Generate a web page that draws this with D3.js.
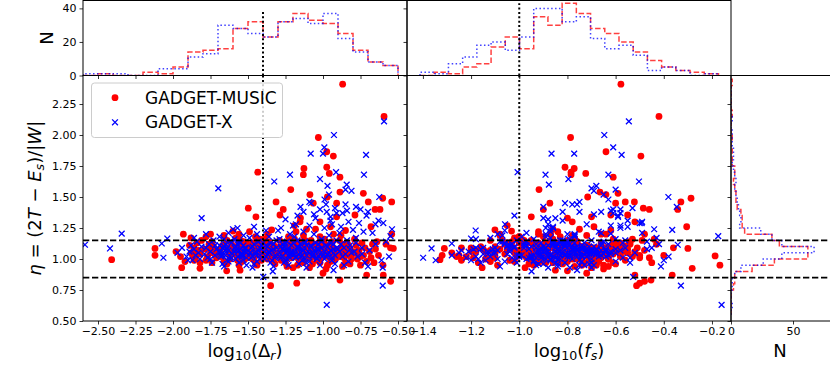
<!DOCTYPE html>
<html><head><meta charset="utf-8">
<script src="https://cdn.jsdelivr.net/npm/d3@7"></script>
<style>body{margin:0;background:#fff}svg{display:block}text{font-family:"DejaVu Sans",sans-serif}</style>
</head><body><svg id="c" width="830" height="378"></svg>
<script>
// ---------- tick labels / constants ----------
const drTicks = [-2.5,-2.25,-2,-1.75,-1.5,-1.25,-1,-0.75,-0.5];
const fsTicks = [-1.4,-1.2,-1.0,-0.8,-0.6,-0.4,-0.2];
const etaTicks = [0.5,0.75,1.0,1.25,1.5,1.75,2.0,2.25];
const nTopTicks = [0,20,40];
const nRightTicks = [0,50];
const etaCuts = [0.85,1.15];
const drCut = -1.4, fsCut = -1.0;
const seriesNames = ["GADGET-MUSIC","GADGET-X"];

// ---------- histogram counts ----------
const drBinStart = -2.6, drBinWidth = 0.1;
const drHistMusic = [0,1,0,0,2,1,5,14,15,16,28,32,23,32,37,33,31,25,15,8,6];
const drHistX     = [1,1,1,0,0,4,4,11,13,30,28,25,23,32,34,31,37,22,14,8,6];
const fsBinStart = -1.412, fsBinWidth = 0.059;
const fsHistMusic = [0,2,1,5,7,17,23,16,35,30,43,37,28,25,20,14,9,5,3,2,1];
const fsHistX     = [2,1,7,11,18,20,15,23,40,40,32,35,22,16,18,12,3,5,3,0,1];
const etaBinStart = 0.55, etaBinWidth = 0.05;
const etaHistMusic = [0,0,0,0,2,3,3,17,35,62,62,39,33,11,9,9,8,5,4,4,3,2,3,3,1,1,1,0,1,0,0,0,1,0,0,0,0,1];
const etaHistX     = [0,1,0,0,1,1,3,8,26,41,67,41,33,24,7,8,7,6,5,4,3,4,3,2,1,2,2,1,1,1,0,1,0,0,0,0,0,0];

// ---------- scatter points: [log10(Delta_r), log10(f_s), eta] ----------
const musicPts = [
[-0.869,-0.578,2.41],[-0.593,-0.42,2.15],[-1.031,-0.787,1.98],[-0.975,-0.64,1.865],[-0.931,-0.495,1.83],
[-0.975,-0.81,1.74],[-1.127,-0.772,1.73],[-1.435,-0.785,1.70],[-0.958,-0.724,1.69],[-1.131,-0.785,1.68],
[-0.887,-0.61,1.66],[-1.215,-0.918,1.56],[-0.887,-0.665,1.54],[-0.731,-0.59,1.53],[-1.087,-0.64,1.52],
[-0.971,-0.716,1.50],[-0.602,-0.287,1.49],[-0.542,-0.329,1.46],[-1.313,-0.522,1.46],[-0.698,-0.56,1.46],
[-1.065,-0.873,1.45],[-0.909,-0.60,1.45],[-1.498,-0.485,1.41],[-1.265,-0.342,1.40],[-0.653,-0.90,1.40],
[-0.62,-0.46,1.40],[-1.287,-0.62,1.355],[-0.787,-0.55,1.355],[-1.447,-0.95,1.34],[-0.909,-0.70,1.34],
[-1.153,-0.52,1.30],[-1.02,-0.78,1.30],[-0.68,-0.305,1.26],[-1.342,-1.101,1.235],[-1.6,-1.032,1.225],
[-1.931,-0.48,1.20],[-0.542,-0.66,1.20],
[-1.349,-0.513,0.785],[-1.175,-0.50,0.805],[-0.887,-0.453,0.83],[-0.549,-0.48,0.82],[-0.709,-0.365,0.87],
[-0.598,-0.52,0.87],[-1.0,-0.72,0.885],[-1.642,-0.80,0.905],[-1.553,-0.85,0.91],[-1.82,-0.282,0.925],
[-1.942,-1.154,0.93],[-1.2,-0.976,0.93],[-0.6,-0.167,0.95],[-2.409,-1.329,0.995],[-0.75,-0.187,1.025],
[-2.12,-1.25,1.03],[-2.12,-1.311,1.085],[-0.531,-0.30,1.085],
[-1.98,-1.18,1.06],[-1.95,-1.22,1.02],[-1.92,-1.12,0.98],
[-1.88,-1.10,1.05],[-1.86,-1.24,1.09],[-1.85,-0.95,1.01],[-1.84,-1.05,1.13],[-1.82,-1.17,0.97],[-1.89,-0.86,1.11],[-1.87,-1.32,1.03],[-1.83,-0.99,1.07],[-1.81,-1.12,1.15],[-1.86,-0.90,0.99],[-1.84,-1.20,1.06],[-1.88,-1.02,1.17],[-1.82,-0.93,1.04],
[-1.79,-1.15,1.08],[-1.77,-0.97,1.02],[-1.76,-1.06,1.12],[-1.75,-1.28,1.05],[-1.74,-0.89,0.97],[-1.73,-1.10,1.10],[-1.78,-1.00,1.18],[-1.72,-0.93,1.06],[-1.71,-1.19,1.01],[-1.76,-0.84,1.09],[-1.74,-1.03,1.14],[-1.78,-1.24,0.99],[-1.72,-0.95,1.04],[-1.75,-1.08,1.20],
[-1.69,-1.12,1.07],[-1.68,-0.98,1.03],[-1.67,-1.05,1.11],[-1.66,-0.90,0.98],[-1.65,-1.20,1.09],[-1.64,-0.86,1.15],[-1.63,-1.02,1.05],[-1.62,-1.14,1.00],[-1.61,-0.94,1.12],[-1.69,-0.82,1.06],[-1.68,-1.26,1.02],[-1.66,-1.08,1.19],[-1.64,-0.96,0.96],[-1.62,-0.88,1.08],
[-1.59,-1.06,1.04],[-1.58,-0.91,1.09],[-1.57,-1.13,1.01],[-1.56,-0.85,1.12],[-1.55,-0.97,1.06],[-1.54,-1.02,0.98],[-1.53,-0.80,1.14],[-1.52,-1.18,1.07],[-1.51,-0.93,1.03],[-1.59,-0.87,1.10],[-1.58,-1.00,1.17],[-1.57,-0.76,1.05],[-1.56,-1.09,0.95],[-1.55,-0.89,1.08],[-1.54,-0.83,1.02],[-1.53,-1.04,1.11],[-1.52,-0.95,1.00],[-1.51,-0.78,1.13],[-1.58,-1.14,1.06],[-1.56,-0.92,1.20],[-1.54,-0.99,1.04],[-1.52,-0.86,1.09],[-1.57,-0.82,0.99],[-1.55,-1.07,1.15],[-1.53,-0.74,1.07],[-1.51,-1.01,1.02],
[-1.49,-0.95,1.06],[-1.48,-0.88,1.02],[-1.47,-1.03,1.10],[-1.46,-0.81,1.05],[-1.45,-0.92,0.97],[-1.44,-0.77,1.12],[-1.43,-1.08,1.08],[-1.42,-0.85,1.03],[-1.41,-0.98,1.15],[-1.49,-0.72,1.09],[-1.47,-0.90,1.00],[-1.45,-1.00,1.18],[-1.43,-0.79,1.04],[-1.41,-0.87,1.11],[-1.48,-1.12,1.01],[-1.46,-0.84,1.07],[-1.44,-0.94,0.95],[-1.42,-0.75,1.06],[-1.40,-0.96,1.13],[-1.47,-0.80,1.03],
[-1.47,-1.00,1.13],[-1.45,-0.79,1.04],[-1.43,-1.16,1.10],[-1.41,-1.04,0.99],[-1.49,-0.92,1.22],[-1.46,-1.10,1.01],[-1.43,-0.84,1.07],[-1.42,-0.99,1.16],
[-1.39,-0.90,1.05],[-1.38,-0.83,1.09],[-1.37,-0.97,1.01],[-1.36,-0.76,1.12],[-1.35,-0.88,1.04],[-1.34,-1.05,1.07],[-1.33,-0.80,0.98],[-1.32,-0.93,1.10],[-1.31,-0.71,1.03],[-1.39,-0.86,1.16],[-1.38,-1.10,1.06],[-1.37,-0.78,1.00],[-1.36,-0.95,1.14],[-1.35,-0.84,1.08],[-1.34,-0.69,1.02],[-1.33,-0.91,1.11],[-1.32,-0.82,0.96],[-1.31,-0.99,1.05],[-1.39,-0.74,1.09],[-1.37,-0.87,1.20],
[-1.25,-0.79,1.03],[-1.23,-1.01,1.07],[-1.21,-0.85,1.13],[-1.28,-0.92,0.99],[-1.26,-0.67,1.05],[-1.24,-0.89,1.01],[-1.22,-0.77,1.17],[-1.20,-0.94,1.06],
[-1.29,-0.85,1.04],[-1.28,-0.78,1.10],[-1.27,-0.92,1.02],[-1.26,-0.70,1.07],[-1.25,-0.86,0.97],[-1.24,-0.99,1.12],[-1.23,-0.75,1.05],[-1.22,-0.88,1.09],[-1.21,-0.66,1.01],[-1.29,-0.95,1.15],[-1.27,-0.81,1.06],[-1.25,-0.73,1.03],[-1.23,-0.90,1.18],[-1.21,-0.79,1.08],[-1.28,-0.63,1.00],[-1.26,-0.84,1.13],[-1.24,-0.77,0.94],[-1.22,-0.97,1.04],[-1.20,-0.71,1.10],[-1.27,-0.89,1.07],
[-1.19,-0.80,1.05],[-1.18,-0.72,1.11],[-1.17,-0.88,1.01],[-1.16,-0.65,1.08],[-1.15,-0.83,0.98],[-1.14,-0.76,1.14],[-1.13,-0.93,1.04],[-1.12,-0.69,1.09],[-1.11,-0.86,1.02],[-1.19,-0.61,1.16],[-1.18,-0.90,1.06],[-1.17,-0.74,0.95],[-1.16,-0.82,1.12],[-1.15,-0.68,1.03],[-1.14,-0.96,1.07],[-1.13,-0.78,1.19],[-1.12,-0.63,1.00],[-1.11,-0.85,1.10],[-1.19,-0.70,1.04],[-1.17,-0.59,1.08],[-1.15,-0.92,1.13],[-1.13,-0.73,0.97],[-1.11,-0.66,1.05],[-1.18,-0.84,1.22],[-1.16,-0.77,1.01],[-1.12,-0.80,1.15],
[-1.17,-0.95,1.06],[-1.14,-0.88,1.00],[-1.12,-0.70,1.09],[-1.19,-1.05,1.27],[-1.15,-0.80,1.33],[-1.11,-0.75,1.24],
[-1.09,-0.75,1.06],[-1.08,-0.68,1.02],[-1.07,-0.84,1.11],[-1.06,-0.62,1.04],[-1.05,-0.79,1.08],[-1.04,-0.71,0.99],[-1.03,-0.89,1.13],[-1.02,-0.65,1.05],[-1.01,-0.81,1.01],[-1.09,-0.58,1.10],[-1.08,-0.87,1.15],[-1.07,-0.73,0.96],[-1.06,-0.67,1.07],[-1.05,-0.94,1.03],[-1.04,-0.60,1.12],[-1.03,-0.77,1.00],[-1.02,-0.83,1.18],[-1.01,-0.56,1.06],[-1.09,-0.70,0.93],[-1.07,-0.64,1.09],[-1.05,-0.86,1.24],[-1.03,-0.69,1.04],[-1.01,-0.74,1.10],[-1.08,-0.78,1.01],[-1.06,-0.55,1.05],[-1.04,-0.82,1.08],[-1.02,-0.61,0.97],[-1.00,-0.76,1.14],
[-0.99,-0.70,1.05],[-0.98,-0.63,1.10],[-0.97,-0.79,1.02],[-0.96,-0.57,1.08],[-0.95,-0.74,0.98],[-0.94,-0.66,1.13],[-0.93,-0.85,1.04],[-0.92,-0.60,1.07],[-0.91,-0.77,1.01],[-0.99,-0.53,1.16],[-0.98,-0.82,1.06],[-0.97,-0.68,0.95],[-0.96,-0.72,1.11],[-0.95,-0.58,1.03],[-0.94,-0.90,1.09],[-0.93,-0.64,1.20],[-0.92,-0.75,1.00],[-0.91,-0.52,1.06],[-0.99,-0.80,1.12],[-0.97,-0.61,1.04],[-0.95,-0.69,1.26],[-0.93,-0.56,0.99],[-0.91,-0.73,1.08],[-0.98,-0.65,0.92],[-0.94,-0.78,1.14],
[-0.89,-0.66,1.06],[-0.88,-0.58,1.02],[-0.87,-0.74,1.10],[-0.86,-0.52,1.05],[-0.85,-0.69,0.97],[-0.84,-0.61,1.13],[-0.83,-0.80,1.04],[-0.82,-0.55,1.08],[-0.81,-0.71,1.00],[-0.89,-0.49,1.15],[-0.87,-0.63,0.94],[-0.85,-0.77,1.07],[-0.83,-0.57,1.11],[-0.81,-0.64,1.03],[-0.88,-0.72,1.19],[-0.86,-0.46,1.01],[-0.84,-0.68,1.09],[-0.82,-0.60,0.96],[-0.80,-0.75,1.06],[-0.87,-0.54,1.12],[-0.85,-0.62,1.23],[-0.83,-0.50,1.03],
[-0.79,-0.62,1.05],[-0.78,-0.55,1.11],[-0.77,-0.70,1.00],[-0.76,-0.48,1.07],[-0.75,-0.65,0.95],[-0.74,-0.58,1.13],[-0.73,-0.74,1.03],[-0.72,-0.51,1.09],[-0.71,-0.67,0.98],[-0.79,-0.44,1.16],[-0.77,-0.60,1.06],[-0.75,-0.53,1.02],
[-0.69,-0.58,1.06],[-0.68,-0.50,1.01],[-0.67,-0.66,1.12],[-0.66,-0.45,0.97],[-0.65,-0.61,1.08],[-0.64,-0.54,1.14],[-0.63,-0.40,1.03],
[-0.58,-0.43,1.12],[-0.55,-0.36,1.09]
];
const xPts = [
[-0.593,-0.545,2.11],[-0.927,-0.647,2.0],[-0.991,-0.61,1.90],[-1.082,-0.866,1.85],[-0.713,-0.575,1.84],
[-1.0,-0.772,1.85],[-0.913,-1.007,1.70],[-0.727,-0.891,1.68],[-1.22,-0.63,1.68],[-1.02,-0.796,1.645],
[-1.325,-0.503,1.625],[-0.842,-0.877,1.60],[-1.698,-0.70,1.57],[-0.85,-0.60,1.56],[-0.625,-0.381,1.50],
[-1.091,-0.75,1.46],[-0.78,-0.346,1.42],[-0.975,-0.82,1.38],[-0.70,-0.66,1.38],[-1.809,-0.90,1.33],
[-0.598,-0.492,1.29],[-0.65,-1.059,1.28],[-1.2,-0.58,1.27],[-0.8,-0.365,1.235],[-1.3,-1.181,1.23],
[-2.342,-0.62,1.205],[-0.55,-0.174,1.185],[-2.038,-1.2,1.165],[-2.075,-1.28,1.125],[-2.587,-0.342,1.115],
[-2.42,-1.364,1.085],[-2.064,-1.399,1.01],[-1.9,-1.347,0.99],[-0.7,-0.412,0.94],[-0.602,-0.70,0.93],
[-1.335,-0.949,0.90],[-1.398,-0.527,0.855],[-0.602,-0.329,0.785],[-0.975,-0.16,0.63],
[-1.97,-1.25,1.05],[-1.94,-1.10,1.09],[-1.91,-1.18,1.02],
[-1.89,-1.21,1.06],[-1.88,-1.05,1.11],[-1.87,-1.14,0.99],[-1.86,-0.96,1.08],[-1.85,-1.28,1.03],[-1.84,-1.08,1.14],[-1.83,-0.92,1.05],[-1.82,-1.17,1.00],[-1.81,-1.02,1.10],[-1.86,-1.12,1.17],
[-1.79,-1.13,1.04],[-1.78,-0.98,1.09],[-1.77,-1.22,1.01],[-1.76,-1.06,1.12],[-1.75,-0.90,1.06],[-1.74,-1.16,0.97],[-1.73,-1.01,1.15],[-1.72,-0.94,1.03],[-1.71,-1.19,1.08],[-1.78,-1.09,1.20],[-1.75,-0.87,1.00],[-1.72,-1.04,1.11],
[-1.69,-1.10,1.05],[-1.68,-0.95,1.02],[-1.67,-1.15,1.09],[-1.66,-0.88,1.04],[-1.65,-1.03,1.12],[-1.64,-1.20,0.99],[-1.63,-0.92,1.07],[-1.62,-1.07,1.14],[-1.61,-0.85,1.01],[-1.69,-0.99,1.18],[-1.68,-1.13,1.06],[-1.67,-0.90,0.96],[-1.66,-1.05,1.10],[-1.65,-0.83,1.03],[-1.64,-1.16,1.08],[-1.63,-0.97,1.21],[-1.62,-0.89,1.00],[-1.61,-1.11,1.05],[-1.69,-0.86,1.11],[-1.67,-1.01,1.03],[-1.65,-1.24,1.07],[-1.63,-0.94,0.98],[-1.61,-1.06,1.13],[-1.68,-0.81,1.04],[-1.66,-1.18,1.16],[-1.64,-0.91,1.09],[-1.62,-1.00,1.02],[-1.60,-0.87,1.24],[-1.66,-1.08,0.94],
[-1.59,-1.04,1.06],[-1.58,-0.90,1.10],[-1.57,-1.12,1.02],[-1.56,-0.84,1.07],[-1.55,-0.98,1.13],[-1.54,-1.15,1.04],[-1.53,-0.87,0.99],[-1.52,-1.02,1.09],[-1.51,-0.80,1.05],[-1.59,-0.94,1.16],[-1.58,-1.09,1.00],[-1.57,-0.86,1.12],[-1.56,-1.01,0.97],[-1.55,-0.78,1.08],[-1.54,-0.92,1.03],[-1.53,-1.07,1.19],[-1.52,-0.83,1.06],[-1.51,-0.96,1.01],[-1.59,-1.18,1.09],[-1.57,-0.89,1.25],[-1.55,-1.05,1.04],[-1.53,-0.81,1.11],[-1.51,-0.93,0.95],[-1.58,-0.76,1.07],[-1.56,-0.97,1.14],[-1.54,-0.88,1.02],[-1.52,-1.11,1.08],
[-1.49,-0.93,1.05],[-1.48,-0.85,1.09],[-1.47,-1.00,1.02],[-1.46,-0.79,1.12],[-1.45,-0.90,1.06],[-1.44,-1.06,0.98],[-1.43,-0.82,1.14],[-1.42,-0.95,1.03],[-1.41,-0.74,1.08],[-1.49,-0.87,1.17],[-1.48,-1.03,1.01],[-1.47,-0.81,1.10],[-1.46,-0.92,0.96],[-1.45,-0.77,1.04],[-1.44,-0.89,1.20],[-1.43,-1.09,1.07],[-1.42,-0.84,1.00],[-1.41,-0.97,1.11],[-1.48,-0.72,1.05],[-1.46,-0.86,1.26],[-1.44,-0.99,1.03],[-1.42,-0.80,1.09],[-1.40,-0.91,1.13],[-1.47,-0.88,0.93],
[-1.39,-0.88,1.06],[-1.38,-0.80,1.02],[-1.37,-0.95,1.10],[-1.36,-0.74,1.05],[-1.35,-0.86,1.13],[-1.34,-1.02,0.99],[-1.33,-0.78,1.08],[-1.32,-0.91,1.03],[-1.31,-0.70,1.15],[-1.39,-0.83,1.00],[-1.38,-0.97,1.11],[-1.37,-0.76,1.04],[-1.36,-0.89,1.18],[-1.35,-0.81,0.97],[-1.34,-0.68,1.07],[-1.33,-0.93,1.12],[-1.32,-0.85,1.01],[-1.31,-0.77,1.09],[-1.38,-1.06,1.23],[-1.36,-0.72,1.06],[-1.33,-0.84,0.94],
[-1.29,-0.84,1.05],[-1.28,-0.76,1.10],[-1.27,-0.90,1.02],[-1.26,-0.70,1.07],[-1.25,-0.83,1.13],[-1.24,-0.97,1.00],[-1.23,-0.74,1.09],[-1.22,-0.87,1.04],[-1.21,-0.66,1.11],[-1.29,-0.79,1.16],[-1.28,-0.93,1.01],[-1.27,-0.72,1.08],[-1.26,-0.85,0.97],[-1.25,-0.68,1.05],[-1.24,-0.81,1.14],[-1.23,-1.00,1.03],[-1.22,-0.77,1.20],[-1.21,-0.89,1.06],[-1.29,-0.64,1.02],[-1.27,-0.82,1.12],[-1.25,-0.75,0.99],[-1.23,-0.91,1.07],[-1.21,-0.71,1.04],[-1.28,-0.86,1.25],[-1.26,-0.78,1.10],[-1.24,-0.62,1.06],[-1.22,-0.95,1.01],[-1.20,-0.80,1.13],[-1.27,-1.04,1.08],[-1.25,-0.88,1.32],[-1.23,-0.69,0.95],
[-1.19,-0.82,1.06],[-1.18,-0.74,1.02],[-1.17,-0.89,1.09],[-1.16,-0.67,1.04],[-1.15,-0.80,1.12],[-1.14,-0.94,0.99],[-1.13,-0.71,1.07],[-1.12,-0.86,1.14],[-1.11,-0.63,1.03],[-1.19,-0.77,1.18],[-1.18,-0.91,1.01],[-1.17,-0.69,1.10],[-1.16,-0.84,0.96],[-1.15,-0.72,1.05],[-1.14,-0.60,1.08],[-1.13,-0.87,1.22],[-1.12,-0.78,1.00],[-1.11,-0.98,1.11],[-1.19,-0.65,1.04],[-1.17,-0.83,1.15],[-1.15,-0.76,1.02],[-1.13,-0.92,1.07],[-1.11,-0.70,0.97],[-1.18,-0.88,1.28],[-1.16,-0.73,1.09],[-1.14,-0.81,1.03],[-1.12,-0.66,1.13],[-1.10,-0.85,1.06],[-1.17,-1.02,1.35],[-1.15,-0.90,1.42],[-1.13,-0.75,1.38],[-1.11,-0.79,0.93],
[-1.09,-0.79,1.05],[-1.08,-0.71,1.10],[-1.07,-0.86,1.02],[-1.06,-0.64,1.07],[-1.05,-0.77,1.13],[-1.04,-0.90,1.00],[-1.03,-0.68,1.08],[-1.02,-0.82,1.04],[-1.01,-0.60,1.16],[-1.09,-0.74,0.98],[-1.08,-0.88,1.11],[-1.07,-0.66,1.03],[-1.06,-0.80,1.20],[-1.05,-0.70,1.06],[-1.04,-0.57,1.01],[-1.03,-0.84,1.12],[-1.02,-0.75,0.95],[-1.01,-0.93,1.09],[-1.09,-0.62,1.27],[-1.07,-0.78,1.05],[-1.05,-0.85,1.33],[-1.03,-0.72,1.02],[-1.01,-0.65,1.14],[-1.08,-0.81,1.45],[-1.06,-0.69,1.36],[-1.04,-0.76,1.08],[-1.02,-0.58,1.40],[-1.00,-0.87,1.03],
[-0.99,-0.75,1.06],[-0.98,-0.67,1.02],[-0.97,-0.83,1.10],[-0.96,-0.60,1.05],[-0.95,-0.73,1.13],[-0.94,-0.87,0.99],[-0.93,-0.64,1.08],[-0.92,-0.79,1.03],[-0.91,-0.56,1.15],[-0.99,-0.70,1.00],[-0.98,-0.85,1.11],[-0.97,-0.62,1.04],[-0.96,-0.77,1.19],[-0.95,-0.66,1.07],[-0.94,-0.54,1.01],[-0.93,-0.81,1.12],[-0.92,-0.71,0.96],[-0.91,-0.89,1.09],[-0.99,-0.58,1.25],[-0.97,-0.74,1.03],[-0.95,-0.82,1.31],[-0.93,-0.69,1.05],[-0.91,-0.61,1.37],[-0.98,-0.78,1.44],[-0.96,-0.65,1.52],[-0.94,-0.72,1.28],[-0.92,-0.53,1.41],[-0.90,-0.84,1.08],[-0.97,-0.68,1.59],[-0.95,-0.59,1.34],[-0.93,-0.76,0.91],[-0.99,-0.63,1.48],
[-0.89,-0.71,1.06],[-0.88,-0.63,1.12],[-0.87,-0.79,1.02],[-0.86,-0.56,1.09],[-0.85,-0.68,1.04],[-0.84,-0.82,1.15],[-0.83,-0.60,0.98],[-0.82,-0.74,1.11],[-0.81,-0.52,1.05],[-0.89,-0.66,1.21],[-0.87,-0.58,1.37],[-0.85,-0.76,1.44],[-0.83,-0.49,1.30],[-0.81,-0.69,1.55],[-0.88,-0.55,1.26],[-0.86,-0.73,0.95],[-0.84,-0.62,1.39],[-0.82,-0.47,1.08],
[-0.79,-0.64,1.06],[-0.78,-0.57,1.13],[-0.77,-0.72,1.02],[-0.76,-0.50,1.29],[-0.75,-0.61,1.40],[-0.74,-0.45,1.09],[-0.73,-0.67,1.22],[-0.72,-0.54,0.97],[-0.71,-0.59,1.35],[-0.78,-0.43,1.17],[-0.74,-0.70,1.04],
[-0.69,-0.58,1.07],[-0.67,-0.49,1.21],[-0.65,-0.42,1.12],[-0.63,-0.55,1.31],[-0.61,-0.40,0.99],
[-0.58,-0.47,1.14],[-0.56,-0.38,1.02],[-0.54,-0.44,1.24]
];

// ---------- layout & scales ----------
const svg = d3.select("#c");
const P = {L:[83,407], M:[407,731], R:[731,840], top:[0.5,75.5], sc:[75.5,321]};
const xL = d3.scaleLinear().domain([-2.6,-0.44]).range([83,407]);
const xM = d3.scaleLinear().domain([-1.466,-0.121]).range([407,731]);
const xR = d3.scaleLinear().domain([0,80]).range([731,830.2]);
const yS = d3.scaleLinear().domain([0.5,2.48]).range([321,75.5]);
const yH = d3.scaleLinear().domain([0,44.7]).range([75.5,0.5]);
const RED = "#ff0000", BLUE = "#0000ff";

const defs = svg.append("defs");
function clip(id, x0, y0, x1, y1){
  defs.append("clipPath").attr("id", id).append("rect")
    .attr("x", x0).attr("y", y0).attr("width", x1-x0).attr("height", y1-y0);
  return "url(#"+id+")";
}
const cTL = clip("ctl", P.L[0], P.top[0], P.L[1], P.top[1]);
const cTM = clip("ctm", P.M[0], P.top[0], P.M[1], P.top[1]);
const cSL = clip("csl", P.L[0], P.sc[0], P.L[1], P.sc[1]);
const cSM = clip("csm", P.M[0], P.sc[0], P.M[1], P.sc[1]);
const cR  = clip("cr",  P.R[0], P.sc[0], P.R[1], P.sc[1]);

// ---------- histograms ----------
function topStep(counts, start, w, xs){
  const pts = [[xs(start), yH(0)]];
  counts.forEach((c,i)=>{ pts.push([xs(start+i*w), yH(c)]); pts.push([xs(start+(i+1)*w), yH(c)]); });
  pts.push([xs(start+counts.length*w), yH(0)]);
  return d3.line()(pts);
}
function sideStep(counts, start, w){
  const pts = [[xR(0), yS(start)]];
  counts.forEach((c,i)=>{ pts.push([xR(c), yS(start+i*w)]); pts.push([xR(c), yS(start+(i+1)*w)]); });
  pts.push([xR(0), yS(start+counts.length*w)]);
  return d3.line()(pts);
}
const redStyle = s => s.attr("fill","none").attr("stroke",RED).attr("stroke-opacity",0.75).attr("stroke-width",1.5).attr("stroke-dasharray","5.5,2.4");
const blueStyle = s => s.attr("fill","none").attr("stroke",BLUE).attr("stroke-opacity",0.75).attr("stroke-width",1.5).attr("stroke-dasharray","1.5,2.4");

const gTL = svg.append("g").attr("clip-path", cTL);
gTL.append("path").attr("d", topStep(drHistMusic, drBinStart, drBinWidth, xL)).call(redStyle);
gTL.append("path").attr("d", topStep(drHistX, drBinStart, drBinWidth, xL)).call(blueStyle);
const gTM = svg.append("g").attr("clip-path", cTM);
gTM.append("path").attr("d", topStep(fsHistMusic, fsBinStart, fsBinWidth, xM)).call(redStyle);
gTM.append("path").attr("d", topStep(fsHistX, fsBinStart, fsBinWidth, xM)).call(blueStyle);
const gR = svg.append("g").attr("clip-path", cR);
gR.append("path").attr("d", sideStep(etaHistMusic, etaBinStart, etaBinWidth)).call(redStyle);
gR.append("path").attr("d", sideStep(etaHistX, etaBinStart, etaBinWidth)).call(blueStyle);

// ---------- scatter ----------
const R0 = 3.4, A = 2.9;
function crossPath(x, y){ return `M${x-A},${y-A}L${x+A},${y+A}M${x-A},${y+A}L${x+A},${y-A}`; }
function scatter(g, xs, idx){
  g.selectAll("circle.m").data(musicPts).join("circle").attr("class","m")
    .attr("cx", d=>xs(d[idx])).attr("cy", d=>yS(d[2])).attr("r", R0).attr("fill", RED);
  g.selectAll("path.x").data(xPts).join("path").attr("class","x")
    .attr("d", d=>crossPath(xs(d[idx]), yS(d[2]))).attr("stroke", BLUE).attr("stroke-width",1.3).attr("fill","none");
}
const gSL = svg.append("g").attr("clip-path", cSL);
scatter(gSL, xL, 0);
const gSM = svg.append("g").attr("clip-path", cSM);
scatter(gSM, xM, 1);

// ---------- reference lines ----------
const dashStyle = s => s.attr("stroke","#000").attr("stroke-width",1.7).attr("stroke-dasharray","6.3,2.7");
const dotStyle = s => s.attr("stroke","#000").attr("stroke-width",2).attr("stroke-dasharray","2,2.4");
[[gSL,P.L],[gSM,P.M],[gR,[731,830]]].forEach(([g,px])=>{
  etaCuts.forEach(e=>{
    g.append("line").attr("x1",px[0]).attr("x2",px[1]).attr("y1",yS(e)).attr("y2",yS(e)).call(dashStyle);
  });
});
gSL.append("line").attr("x1",xL(drCut)).attr("x2",xL(drCut)).attr("y1",P.sc[0]).attr("y2",P.sc[1]).call(dotStyle);
gSM.append("line").attr("x1",xM(fsCut)).attr("x2",xM(fsCut)).attr("y1",P.sc[0]).attr("y2",P.sc[1]).call(dotStyle);
gTL.append("line").attr("x1",xL(drCut)).attr("x2",xL(drCut)).attr("y1",yH(0)).attr("y2",yH(d3.max(drHistMusic.concat(drHistX))+1)).call(dotStyle);
gTM.append("line").attr("x1",xM(fsCut)).attr("x2",xM(fsCut)).attr("y1",yH(0)).attr("y2",yH(d3.max(fsHistMusic.concat(fsHistX)))).call(dotStyle);

// ---------- axes ----------
const fmt2 = d3.format(".2f"), fmt1 = d3.format(".1f"), fmtI = d3.format("d");
function ax(gen, scale, ticks, f, tx, ty, labels){
  const a = gen(scale).tickValues(ticks).tickSize(3.5).tickPadding(3).tickSizeOuter(0)
    .tickFormat(labels ? f : ()=>"");
  const g = svg.append("g").attr("transform",`translate(${tx},${ty})`).call(a);
  g.select(".domain").remove();
  g.selectAll(".tick line").attr("stroke","#000").attr("stroke-width",0.8);
  g.selectAll("text").attr("font-size",11).attr("fill","#000").attr("font-family","DejaVu Sans");
  return g;
}
// top hists
ax(d3.axisLeft, yH, nTopTicks, fmtI, P.L[0], 0, true);
ax(d3.axisBottom, xL, drTicks, fmt2, 0, P.top[1], false);
ax(d3.axisLeft, yH, nTopTicks, fmtI, P.M[0], 0, false);
ax(d3.axisBottom, xM, fsTicks, fmt1, 0, P.top[1], false);
// scatter panels
ax(d3.axisLeft, yS, etaTicks, fmt2, P.L[0], 0, true);
ax(d3.axisBottom, xL, drTicks, fmt2, 0, P.sc[1], true);
ax(d3.axisLeft, yS, etaTicks, fmt2, P.M[0], 0, false);
ax(d3.axisBottom, xM, fsTicks, fmt1, 0, P.sc[1], true);
// right hist
ax(d3.axisLeft, yS, etaTicks, fmt2, P.R[0], 0, false);
ax(d3.axisBottom, xR, nRightTicks, fmtI, 0, P.sc[1], true);

// spines
const spine = (x0,y0,x1,y1) => svg.append("rect").attr("x",x0).attr("y",y0).attr("width",x1-x0).attr("height",y1-y0)
  .attr("fill","none").attr("stroke","#000").attr("stroke-width",1);
spine(P.L[0],P.top[0],P.L[1],P.top[1]);
spine(P.M[0],P.top[0],P.M[1],P.top[1]);
spine(P.L[0],P.sc[0],P.L[1],P.sc[1]);
spine(P.M[0],P.sc[0],P.M[1],P.sc[1]);
spine(P.R[0],P.sc[0],P.R[1]+20,P.sc[1]);

// ---------- labels ----------
function mathText(sel, parts){
  parts.forEach(p=>{
    const t = sel.append("tspan").text(p.t);
    if (p.i) t.attr("font-style","italic");
    if (p.s) t.attr("font-size", p.s);
    if (p.dy) t.attr("dy", p.dy);
  });
  return sel;
}
const FS = 18, SUB = 12.6;
mathText(svg.append("text").attr("x",(P.L[0]+P.L[1])/2).attr("y",357).attr("text-anchor","middle").attr("font-size",FS),
  [{t:"log"},{t:"10",s:SUB,dy:3},{t:"(Δ",dy:-3},{t:"r",i:1,s:SUB,dy:3},{t:")",dy:-3}]);
mathText(svg.append("text").attr("x",(P.M[0]+P.M[1])/2).attr("y",357).attr("text-anchor","middle").attr("font-size",FS),
  [{t:"log"},{t:"10",s:SUB,dy:3},{t:"(",dy:-3},{t:"f",i:1},{t:"s",i:1,s:SUB,dy:3},{t:")",dy:-3}]);
svg.append("text").attr("x",780).attr("y",357).attr("text-anchor","middle").attr("font-size",FS).text("N");
svg.append("text").attr("transform","translate(53,38) rotate(-90)").attr("text-anchor","middle").attr("font-size",FS).text("N");
mathText(svg.append("text").attr("transform",`translate(41,${(P.sc[0]+P.sc[1])/2}) rotate(-90)`).attr("text-anchor","middle").attr("font-size",FS),
  [{t:"η",i:1},{t:" = (2"},{t:"T",i:1},{t:" − "},{t:"E",i:1},{t:"s",i:1,s:SUB,dy:3},{t:")/|",dy:-3},{t:"W",i:1},{t:"|"}]);

// ---------- legend ----------
const lg = svg.append("g");
lg.append("rect").attr("x",91.5).attr("y",83).attr("width",191).attr("height",54.5).attr("rx",3)
  .attr("fill","#fff").attr("fill-opacity",0.8).attr("stroke","#cccccc").attr("stroke-width",1);
lg.append("circle").attr("cx",115).attr("cy",97.7).attr("r",R0).attr("fill",RED);
lg.append("path").attr("d",crossPath(115,122.3)).attr("stroke",BLUE).attr("stroke-width",1.3);
lg.selectAll("text.lt").data(seriesNames).join("text").attr("class","lt")
  .attr("x",145).attr("y",(d,i)=>103.6+i*24.6).attr("font-size",17).attr("fill","#000").text(d=>d);
</script></body></html>
